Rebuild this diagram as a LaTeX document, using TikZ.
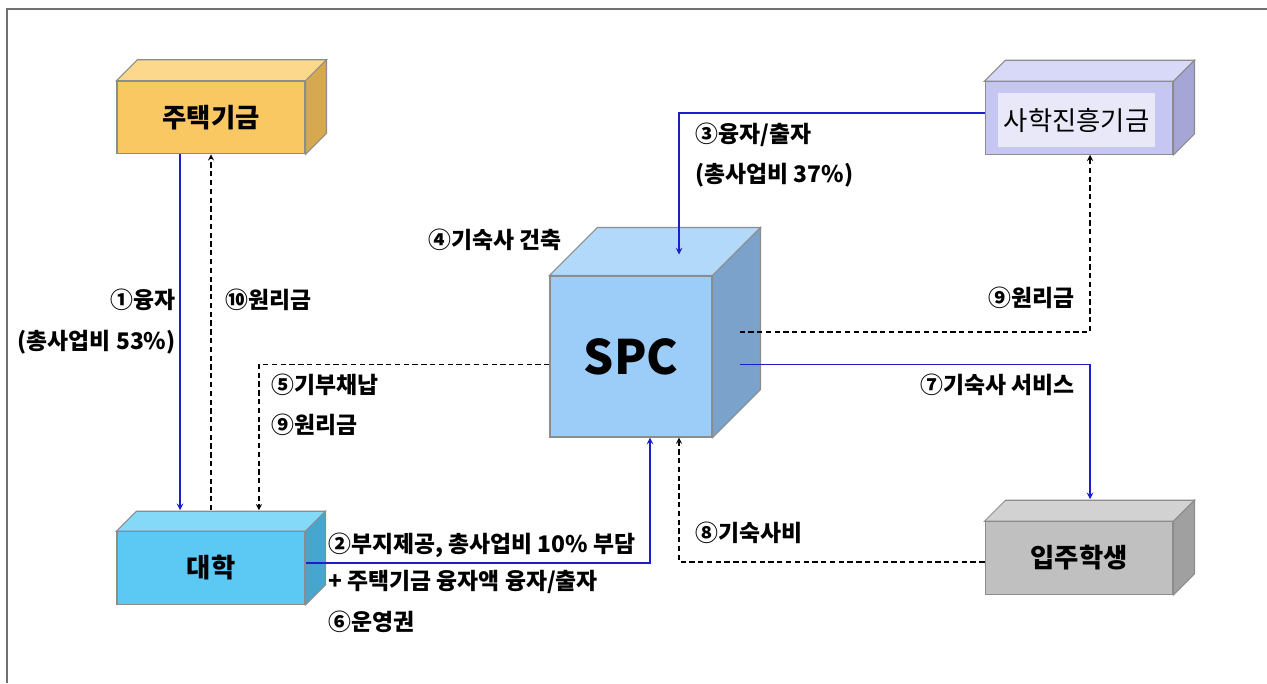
\documentclass[tikz,border=0pt]{standalone}
\usepackage{fontspec}
\setmainfont{Noto Sans CJK KR}
\usepackage{tikz}
\usetikzlibrary{arrows, positioning, calc}
\definecolor{housefront}{HTML}{FAC862}
\definecolor{housetop}{HTML}{FCD88C}
\definecolor{houseside}{HTML}{D6A850}
\definecolor{fundfront}{HTML}{C6C6F2}
\definecolor{fundinner}{HTML}{E8E8F8}
\definecolor{fundtop}{HTML}{D8D8F8}
\definecolor{fundside}{HTML}{A6A6D6}
\definecolor{spcfront}{HTML}{9CCCF8}
\definecolor{spctop}{HTML}{B2D8FA}
\definecolor{spcside}{HTML}{7AA2CA}
\definecolor{univfront}{HTML}{5CC8F4}
\definecolor{univtop}{HTML}{84D8F8}
\definecolor{univside}{HTML}{46A6D0}
\definecolor{studfront}{HTML}{C0C0C0}
\definecolor{studtop}{HTML}{D2D2D2}
\definecolor{studside}{HTML}{A0A0A0}
\definecolor{edgegray}{HTML}{8C8C8C}
\definecolor{flowblue}{HTML}{1E1EC8}
\definecolor{framegray}{HTML}{707070}
\tikzstyle{flow} = [->, >=stealth, draw=flowblue, line width=0.7pt]
\tikzstyle{payback} = [->, >=stealth, dashed, dash pattern=on 3pt off 2pt, line width=0.6pt]
\tikzstyle{block} = [rectangle, draw=edgegray, line width=0.6pt, minimum width=3.76cm, minimum height=1.45cm, text centered, font=\fontsize{15}{18}\selectfont\bfseries]
\tikzstyle{lbl} = [inner sep=0pt, font=\fontsize{13}{15}\selectfont\bfseries]
% top and side faces of a block: name, depth (px), top colour, side colour
\newcommand\blockfaces[4]{%
	\filldraw[draw=edgegray, line width=0.6pt, fill=#3] (#1.north west) -- ++(#2,-#2)
		-- ([shift={(#2,-#2)}]#1.north east) -- (#1.north east) -- cycle;
	\filldraw[draw=edgegray, line width=0.6pt, fill=#4] (#1.north east) -- ++(#2,-#2)
		-- ([shift={(#2,-#2)}]#1.south east) -- (#1.south east) -- cycle;
}
\begin{document}
\begin{tikzpicture}[x=0.02cm, y=-0.02cm]
\useasboundingbox (0,0) rectangle (1267,683);
\draw[framegray, line width=1.2pt] (1267,9) -- (7,9) -- (7,683);
%----------------------------------------------------------------------------
% Placement of blocks
\node (housing) [block, fill=housefront] at (211,117.5) {주택기금};
\blockfaces{housing}{21}{housetop}{houseside}

\node (fund) [block, fill=fundfront] at (1079,118) {};
\blockfaces{fund}{21}{fundtop}{fundside}
\node (fundtxt) [fill=fundinner, minimum width=3.1cm, minimum height=1.08cm, font=\fontsize{15}{18}\selectfont] at (1076.5,120) {사학진흥기금};

\node (spc) [block, fill=spcfront, minimum width=3.24cm, minimum height=3.22cm, font=\fontsize{27}{30}\selectfont\bfseries] at (631,356.5) {SPC};
\blockfaces{spc}{48}{spctop}{spcside}

\node (univ) [block, fill=univfront] at (211,568) {대학};
\blockfaces{univ}{20}{univtop}{univside}

\node (students) [block, fill=studfront] at (1079,558) {입주학생};
\blockfaces{students}{21}{studtop}{studside}

%----------------------------------------------------------------------------
% Labels
\node (loanA) [lbl, anchor=east] at (176,300) {①융자};
\node (shareA) [lbl, anchor=east] at (176,342) {(총사업비 53\%)};
\node (repayA) [lbl, anchor=west] at (225,300) {⑩원리금};
\node (build) [lbl, anchor=west] at (428,240) {④기숙사 건축};
\node (loanB) [lbl, anchor=west] at (695,135) {③융자/출자};
\node (shareB) [lbl, anchor=west] at (695,175) {(총사업비 37\%)};
\node (repayB) [lbl, anchor=east] at (1075,298) {⑨원리금};
\node (donate) [lbl, anchor=west] at (271,385) {⑤기부채납};
\node (repayC) [lbl, anchor=west] at (271,425) {⑨원리금};
\node (service) [lbl, anchor=east] at (1075,385) {⑦기숙사 서비스};
\node (fee) [lbl, anchor=west] at (695,533) {⑧기숙사비};
\node (site) [lbl, anchor=west] at (328,545) {②부지제공, 총사업비 10\% 부담};
\node (invest) [lbl, anchor=west] at (328,582) {+ 주택기금 융자액 융자/출자};
\node (operate) [lbl, anchor=west] at (328,622) {⑥운영권};

%----------------------------------------------------------------------------
% Draw money flows
\draw [flow] ([xshift=-0.62cm]housing.south) -- ([xshift=-0.62cm,yshift=0.42cm]univ.north);
\draw [flow] ([yshift=0.1cm]fund.west) -| ([xshift=0.96cm,yshift=0.42cm]spc.north);
\draw [flow] ([yshift=0.1cm]univ.east) -| ([xshift=0.38cm]spc.south);
\draw [flow] ([xshift=0.54cm,yshift=-0.16cm]spc.east) -| ([xshift=0.22cm,yshift=0.44cm]students.north);

%----------------------------------------------------------------------------
% Draw repayment lines
\draw [payback] ([yshift=0.42cm]univ.north) -- (housing.south);
\draw [payback] ([yshift=-0.16cm]spc.west) -| ([xshift=0.96cm,yshift=0.42cm]univ.north);
\draw [payback] ([xshift=0.54cm,yshift=0.49cm]spc.east) -| ([xshift=0.22cm]fund.south);
\draw [payback] ([yshift=-0.08cm]students.west) -| ([xshift=0.96cm]spc.south);

\end{tikzpicture}
\end{document}
